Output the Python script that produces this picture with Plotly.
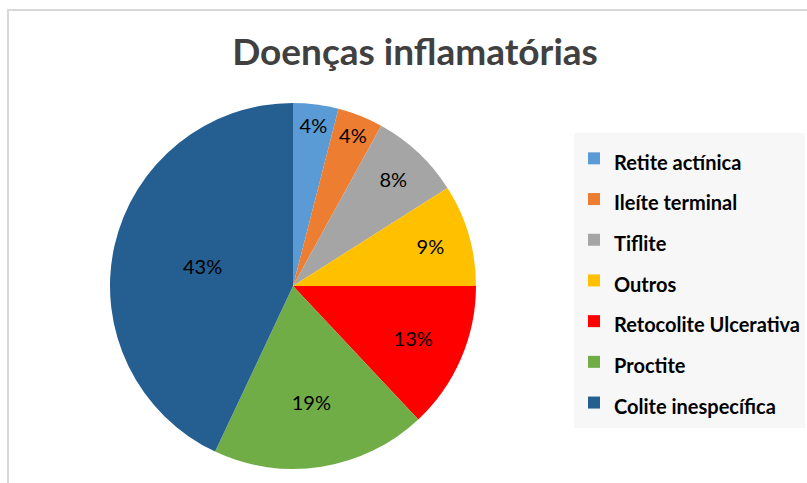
import plotly.graph_objects as go

categories = ["Retite actínica", "Ileíte terminal", "Tiflite", "Outros",
              "Retocolite Ulcerativa", "Proctite", "Colite inespecífica"]
values = [4, 4, 8, 9, 13, 19, 43]
colors = ["#5b9bd5", "#ed7d31", "#a5a5a5", "#ffc000", "#ff0000", "#70ad47", "#255e91"]

W, H = 807, 483
cx, cy, r = 293, 286, 183

legend_labels = ["<span style='font-size:20px'><b>%s</b></span>" % c for c in categories]

fig = go.Figure(go.Pie(
    labels=legend_labels,
    values=values,
    sort=False,
    direction="clockwise",
    rotation=0,
    marker=dict(colors=colors, line=dict(width=0)),
    textinfo="percent",
    texttemplate="%{percent:.0%}",
    textposition="inside",
    insidetextorientation="horizontal",
    textfont=dict(family="Lato", size=20, color="#000000"),
    domain=dict(x=[(cx - r) / W, (cx + r) / W], y=[1 - (cy + r) / H, 1 - (cy - r) / H]),
    hoverinfo="percent",
))

fig.update_layout(
    width=W, height=H,
    margin=dict(l=0, r=0, t=0, b=0),
    paper_bgcolor="white",
    title=dict(text="<b>Doenças inflamatórias</b>", x=415 / W, xanchor="center",
               y=1 - 52 / H, yanchor="middle",
               font=dict(family="Lato", size=37, color="#404040")),
    uniformtext=dict(minsize=20, mode="show"),
    legend=dict(x=574 / W, xanchor="left", y=1 - 133 / H, yanchor="top",
                bgcolor="#f7f7f7", font=dict(family="Lato", size=29, color="#000000"),
                itemwidth=30, itemclick=False),
    shapes=[dict(type="rect", xref="paper", yref="paper",
                 x0=8 / W, x1=1.1, y0=-0.1, y1=1 - 10 / H,
                 line=dict(color="#d9d9d9", width=2), layer="below")],
)

fig.write_html("out.html", config={"displayModeBar": False},
               post_script="document.body.style.margin='0';document.body.style.overflow='hidden';")
